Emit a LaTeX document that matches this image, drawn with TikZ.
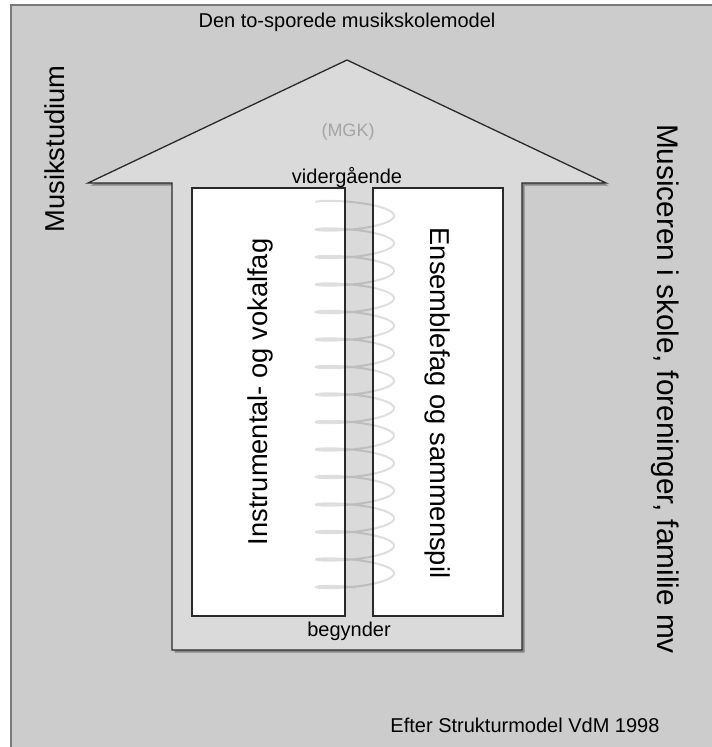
\documentclass[tikz,border=0pt]{standalone}
\usepackage{fontspec}
\setmainfont{Liberation Sans}
\usetikzlibrary{shadows}
\definecolor{bggray}{HTML}{CCCCCC}
\definecolor{arrowgray}{HTML}{DADADA}
\definecolor{edgegray}{HTML}{2A2A2A}
\definecolor{framegray}{HTML}{7A7A7A}
\definecolor{mgkgray}{HTML}{A4A4A4}
\tikzset{
  arrowshape/.style={draw=edgegray, fill=arrowgray, line width=1.3pt, line join=miter,
    drop shadow={shadow xshift=2.5pt, shadow yshift=-2.5pt, opacity=.35, fill=black}},
  trackbox/.style={draw=edgegray, fill=white, line width=1.1pt},
  smalltext/.style={font=\fontsize{20}{24}\selectfont, text=black, inner sep=0pt},
  bigtext/.style={font=\fontsize{27.3}{32}\selectfont, text=black, inner sep=0pt},
  coil/.style={draw=black, draw opacity=.13, line width=2pt, line cap=round}
}
\begin{document}
\begin{tikzpicture}[x=1pt,y=-1pt]
\useasboundingbox (0,0) rectangle (712,747);
\clip (0,0) rectangle (712,747);
\fill[white] (0,0) rectangle (712,747);
% background panel
\draw[framegray, fill=bggray, line width=1.2pt] (11,5) rectangle (730,770);
% big arrow
\path[arrowshape] (347,60) -- (606,183) -- (522,183) -- (522,650) -- (172,650)
  -- (172,183) -- (88,183) -- cycle;
% two tracks
\draw[trackbox] (192,188) rectangle (345,616);
\draw[trackbox] (373,188) rectangle (503,616);
% coil
\draw[coil] plot[variable=\t, domain=0:14.25, samples=600, smooth]
  ({355-39*cos(360*\t)}, {202+27.5*\t-6.5*sin(360*\t)});
% texts
\node[smalltext] (title) at (347,22) {Den to-sporede musikskolemodel};
\node[font=\fontsize{18}{22}\selectfont, text=mgkgray, inner sep=0pt] (mgk) at (348,132) {(MGK)};
\node[smalltext] (top) at (347,178) {vidergående};
\node[smalltext] (bottom) at (349,631) {begynder};
\node[smalltext] (source) at (525,725) {Efter Strukturmodel VdM 1998};
\node[bigtext, rotate=90] (study) at (55,149) {Musikstudium};
\node[bigtext, font=\fontsize{29.8}{34}\selectfont, rotate=-90] (music) at (665,389) {Musiceren i skole, foreninger, familie mv};
\node[bigtext, rotate=90] (instr) at (260,392) {Instrumental- og vokalfag};
\node[bigtext, rotate=-90] (ens) at (438,403) {Ensemblefag og sammenspil};
\end{tikzpicture}
\end{document}
